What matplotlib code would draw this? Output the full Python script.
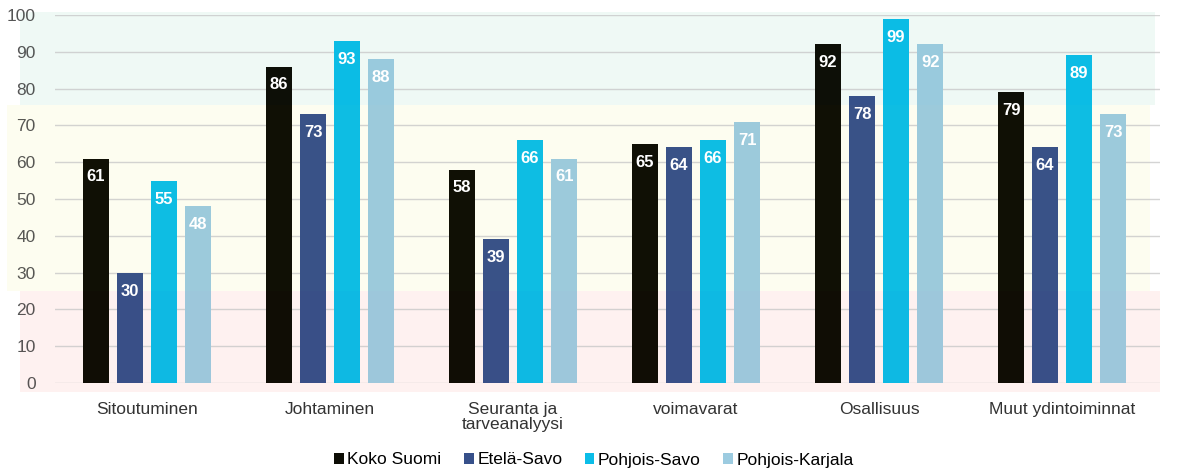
import numpy as np
import matplotlib.pyplot as plt
from matplotlib.patches import Rectangle
from matplotlib.transforms import blended_transform_factory

categories = ['Sitoutuminen', 'Johtaminen', 'Seuranta ja\ntarveanalyysi',
              'voimavarat', 'Osallisuus', 'Muut ydintoiminnat']
series = ['Koko Suomi', 'Etelä-Savo', 'Pohjois-Savo', 'Pohjois-Karjala']
koko_suomi = [61, 86, 58, 65, 92, 79]
etela_savo = [30, 73, 39, 64, 78, 64]
pohjois_savo = [55, 93, 66, 66, 99, 89]
pohjois_karjala = [48, 88, 61, 71, 92, 73]
colors = ['#0d0d05', '#37508a', '#0bbde8', '#9ccbe0']

values = [koko_suomi, etela_savo, pohjois_savo, pohjois_karjala]

plt.rcParams['font.family'] = ['Liberation Sans', 'DejaVu Sans']

fig = plt.figure(figsize=(11.81, 4.70), dpi=100)
ax = fig.add_axes([55 / 1181, 1 - 383 / 470, 1105 / 1181, 368 / 470])

x = np.arange(len(categories))
width = 0.142
step = 0.186

for k, (name, vals, c) in enumerate(zip(series, values, colors)):
    pos = x + (k - 1.5) * step
    bars = ax.bar(pos, vals, width, color=c, label=name, zorder=2)
    for b, v in zip(bars, vals):
        ax.text(b.get_x() + b.get_width() / 2, v - 5, str(v),
                ha='center', va='center', color='white', fontsize=12,
                fontweight='bold', zorder=4)

# background zones (red / yellow / green) behind the bars, with a faint tint on top
tr = blended_transform_factory(fig.transFigure, ax.transData)
zones = [(20 / 1181, -2.5, 1140 / 1181, 27.5, '#fff6f5', '#d02010'),
         (7 / 1181, 25, 1143 / 1181, 50.5, '#fffff5', '#c0c010'),
         (20 / 1181, 75.5, 1135 / 1181, 25.2, '#f4fbf8', '#20a070')]
for x0, y0, w, h, bg, tint in zones:
    ax.add_patch(Rectangle((x0, y0), w, h, transform=tr, facecolor=bg,
                           edgecolor='none', clip_on=False, zorder=-1))
    ax.add_patch(Rectangle((x0, y0), w, h, transform=tr, facecolor=tint,
                           alpha=0.02, edgecolor='none', clip_on=False, zorder=3))

ax.set_ylim(0, 100)
ax.set_xlim(-0.503, 5.535)
ax.set_yticks(range(0, 101, 10))
ax.yaxis.grid(True, color='#d4d4d4', linewidth=1, zorder=0)
ax.set_axisbelow(True)
ax.patch.set_visible(False)
for s in ax.spines.values():
    s.set_visible(False)
ax.tick_params(axis='y', length=0, pad=14, labelsize=12.5, labelcolor='#555555')
ax.tick_params(axis='x', length=0, pad=14, labelsize=12.5, labelcolor='#333333')
ax.set_xticks(x)
ax.set_xticklabels(categories, linespacing=1.0, va='top')

fig.legend(loc='center', bbox_to_anchor=(594 / 1181, 1 - 460 / 470), ncol=4,
           frameon=False, fontsize=12.5, handlelength=0.55, handleheight=0.55,
           handletextpad=0.2, columnspacing=1.3)

fig.savefig('out.png', dpi=100)
